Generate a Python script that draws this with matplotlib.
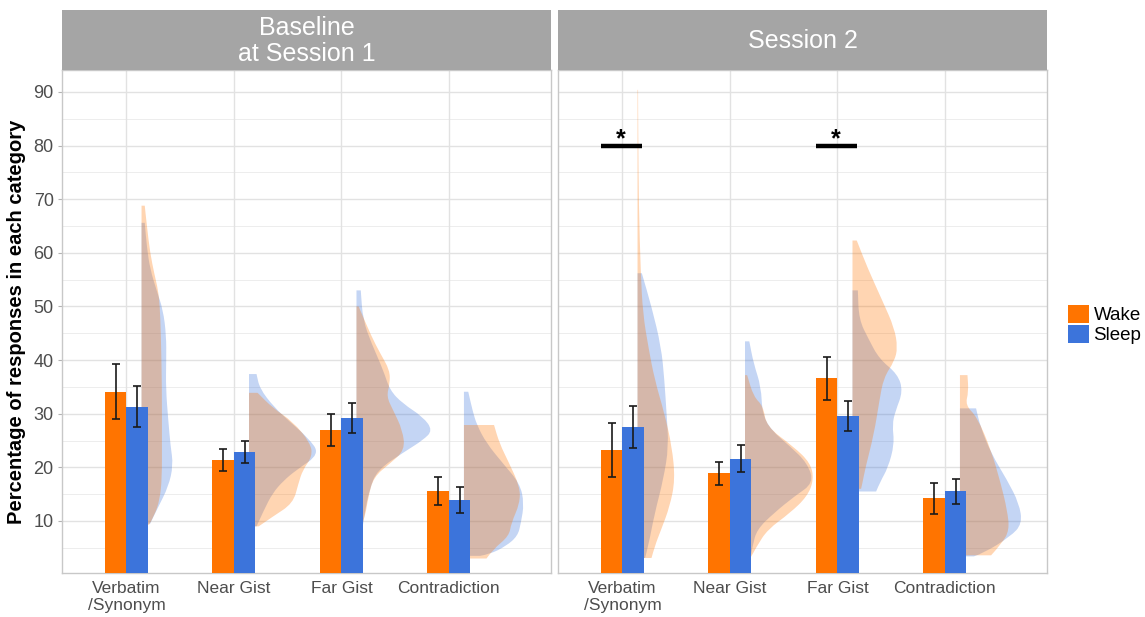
import matplotlib.pyplot as plt
from matplotlib.patches import Patch, PathPatch
from matplotlib.path import Path

plt.rcParams['font.family'] = ['Liberation Sans', 'DejaVu Sans']

categories = ["Verbatim\n/Synonym", "Near Gist", "Far Gist", "Contradiction"]
sessions = ["Baseline\nat Session 1", "Session 2"]
groups = ["Wake", "Sleep"]

# means and standard errors (percent)
s1_wake_mean = [34.1, 21.4, 27.0, 15.6]
s1_wake_se = [5.1, 2.1, 3.0, 2.6]
s1_sleep_mean = [31.3, 22.9, 29.2, 13.9]
s1_sleep_se = [3.85, 2.0, 2.8, 2.35]
s2_wake_mean = [23.2, 18.9, 36.6, 14.2]
s2_wake_se = [5.0, 2.1, 3.95, 2.85]
s2_sleep_mean = [27.6, 21.6, 29.5, 15.5]
s2_sleep_se = [3.9, 2.55, 2.8, 2.35]

# half-violin outlines: percent levels and scaled density at each level
s1_wake_levels = [
    [9.3, 11, 14, 18, 25, 35, 45, 50, 53, 56, 60, 65, 68.8],
    [9.0, 10.8, 13.3, 17.0, 19.5, 22.1, 24.6, 28.5, 31.1, 33.9],
    [9.2, 10.8, 14.5, 18.2, 20.7, 23.2, 26.9, 30.7, 33.2, 35.6, 38.1, 41.3, 44.4, 50.0],
    [3.0, 4.7, 7.2, 9.6, 13.3, 16.4, 20.8, 24.5, 27.9],
]
s1_wake_density = [
    [0.07, 0.12, 0.17, 0.19, 0.19, 0.19, 0.18, 0.17, 0.155, 0.12, 0.08, 0.05, 0.03],
    [0.09, 0.22, 0.41, 0.46, 0.50, 0.59, 0.57, 0.41, 0.22, 0.08],
    [0.05, 0.08, 0.11, 0.16, 0.31, 0.45, 0.43, 0.34, 0.28, 0.31, 0.31, 0.22, 0.14, 0.02],
    [0.21, 0.27, 0.42, 0.44, 0.52, 0.52, 0.42, 0.33, 0.28],
]
s1_sleep_levels = [
    [9.5, 12.6, 16.4, 20.4, 24, 28.5, 34.7, 40, 44.6, 49.4, 53, 57, 61, 65.6],
    [9.0, 12.1, 15.2, 17.5, 19.5, 22.5, 25.5, 28.5, 31.3, 34.7, 37.4],
    [9.2, 12.0, 15.7, 19.5, 23.2, 25.1, 26.9, 29.4, 31.9, 34.4, 38.1, 43.1, 47.5, 53.0],
    [3.5, 3.8, 5.3, 7.2, 9.6, 13.3, 17.0, 20.8, 24.5, 27.9, 30.6, 34.1],
]
s1_sleep_density = [
    [0.08, 0.155, 0.25, 0.295, 0.27, 0.25, 0.226, 0.23, 0.23, 0.2, 0.14, 0.08, 0.05, 0.03],
    [0.07, 0.14, 0.22, 0.32, 0.44, 0.66, 0.55, 0.38, 0.23, 0.10, 0.07],
    [0.06, 0.08, 0.12, 0.19, 0.47, 0.62, 0.71, 0.62, 0.43, 0.31, 0.25, 0.14, 0.06, 0.04],
    [0.15, 0.24, 0.39, 0.50, 0.53, 0.56, 0.52, 0.36, 0.21, 0.12, 0.08, 0.04],
]
s2_wake_levels = [
    [3.1, 5.3, 8.4, 12.7, 17.7, 23.9, 30.1, 36.3, 42.5, 48.7, 56.2, 68.6, 84.2, 90.4],
    [3.1, 5.3, 8.4, 11.5, 14.6, 17.7, 20.8, 23.9, 27.6, 31.4, 33.2, 37.2],
    [16.0, 16.8, 19.9, 26.2, 32.4, 36.7, 39.8, 42.3, 46.0, 51.0, 57.2, 62.3],
    [3.6, 5.8, 8.3, 12.0, 17.0, 23.2, 29.4, 31.6, 34.1, 37.2],
]
s2_wake_density = [
    [0.13, 0.16, 0.22, 0.30, 0.35, 0.32, 0.25, 0.16, 0.10, 0.05, 0.03, 0.012, 0.006, 0.005],
    [0.05, 0.11, 0.21, 0.42, 0.58, 0.64, 0.61, 0.45, 0.20, 0.17, 0.08, 0.02],
    [0.08, 0.09, 0.12, 0.20, 0.25, 0.29, 0.39, 0.42, 0.39, 0.28, 0.14, 0.04],
    [0.29, 0.39, 0.46, 0.44, 0.38, 0.29, 0.16, 0.05, 0.08, 0.07],
]
s2_sleep_levels = [
    [3.1, 5.3, 11.5, 17.7, 23.9, 30.1, 36.3, 42.5, 50.0, 56.2],
    [3.1, 5.3, 8.4, 11.5, 14.6, 17.1, 20.8, 23.9, 27.0, 30.1, 35.0, 39.4, 43.5],
    [15.5, 17.4, 19.9, 24.3, 28.0, 30.5, 34.2, 37.4, 40.2, 43.9, 47.6, 53.0],
    [3.4, 4.0, 7.1, 9.5, 13.3, 17.6, 22.6, 27.6, 31.0],
]
s2_sleep_density = [
    [0.07, 0.10, 0.16, 0.24, 0.29, 0.27, 0.25, 0.22, 0.13, 0.04],
    [0.05, 0.07, 0.11, 0.27, 0.46, 0.64, 0.58, 0.42, 0.24, 0.16, 0.15, 0.08, 0.04],
    [0.22, 0.26, 0.33, 0.39, 0.37, 0.40, 0.47, 0.42, 0.25, 0.15, 0.06, 0.05],
    [0.13, 0.22, 0.47, 0.58, 0.55, 0.44, 0.29, 0.19, 0.15],
]

# significant wake/sleep differences in session 2
sig_categories = [0, 2]
sig_level = 80

wake_col = "#FF7400"
sleep_col = "#3C74DB"


def half_violin(ax, base, levels, dens, color, z):
    # flat side on the left at x=base, smooth outline through the density points
    pts = [(base + d, y) for y, d in zip(levels, dens)]
    verts = [(base, levels[0]), pts[0]]
    codes = [Path.MOVETO, Path.LINETO]
    for i in range(1, len(pts) - 1):
        mid = ((pts[i][0] + pts[i + 1][0]) / 2, (pts[i][1] + pts[i + 1][1]) / 2)
        verts += [pts[i], mid]
        codes += [Path.CURVE3, Path.CURVE3]
    verts += [pts[-1], (base, levels[-1]), (base, levels[0])]
    codes += [Path.LINETO, Path.LINETO, Path.CLOSEPOLY]
    ax.add_patch(PathPatch(Path(verts, codes), facecolor=color, alpha=0.3,
                           lw=0, zorder=z))


panels = [
    (s1_wake_mean, s1_wake_se, s1_sleep_mean, s1_sleep_se,
     s1_wake_levels, s1_wake_density, s1_sleep_levels, s1_sleep_density, []),
    (s2_wake_mean, s2_wake_se, s2_sleep_mean, s2_sleep_se,
     s2_wake_levels, s2_wake_density, s2_sleep_levels, s2_sleep_density, sig_categories),
]

fig = plt.figure(figsize=(11.45, 6.17), dpi=100)
W, H = 1145, 617
lefts = [62, 558]
pw = 489
top, bottom = 70, 573

for p, (wm, ws, sm, ss, wl, wd, sl, sd, sig) in enumerate(panels):
    ax = fig.add_axes([lefts[p] / W, 1 - bottom / H, pw / W, (bottom - top) / H])
    ax.set_xlim(0.4, 4.95)
    ax.set_ylim(0.3, 94.1)
    xs = range(1, len(categories) + 1)

    # grid
    for y in range(10, 91, 10):
        ax.axhline(y, color="#e2e2e2", lw=1.0, zorder=0)
    for y in range(5, 91, 10):
        ax.axhline(y, color="#ededed", lw=0.7, zorder=0)
    for x in xs:
        ax.axvline(x, color="#e2e2e2", lw=1.0, zorder=0)

    # half violins behind the bars
    for i, x in enumerate(xs):
        base = x + 0.14
        half_violin(ax, base, sl[i], sd[i], sleep_col, 1)
        half_violin(ax, base, wl[i], wd[i], wake_col, 1.1)

    wx = [x - 0.1 for x in xs]
    sx = [x + 0.1 for x in xs]
    ax.bar(wx, wm, width=0.2, color=wake_col, zorder=3)
    ax.bar(sx, sm, width=0.2, color=sleep_col, zorder=3)
    ax.errorbar(wx, wm, yerr=ws, fmt="none", ecolor="#1a1a1a", elinewidth=1.2,
                capsize=3, capthick=1.2, zorder=4)
    ax.errorbar(sx, sm, yerr=ss, fmt="none", ecolor="#1a1a1a", elinewidth=1.2,
                capsize=3, capthick=1.2, zorder=4)

    for c in sig:
        x = c + 1
        ax.plot([x - 0.2, x + 0.18], [sig_level, sig_level], color="black",
                lw=3.2, solid_capstyle="butt", zorder=5)
        ax.text(x - 0.02, sig_level - 1.1, "*", ha="center", va="bottom",
                fontsize=18, fontweight="bold", zorder=5)

    ax.set_xticks(list(xs))
    ax.set_xticklabels(categories, fontsize=12.5, color="#4d4d4d", linespacing=1.1)
    ax.set_yticks(range(10, 91, 10))
    if p == 0:
        ax.set_yticklabels([str(v) for v in range(10, 91, 10)], fontsize=13,
                           color="#4d4d4d")
        ax.set_ylabel("Percentage of responses in each category", fontsize=14.5,
                      fontweight="bold", labelpad=5)
    else:
        ax.tick_params(axis="y", left=False, labelleft=False)
    ax.tick_params(axis="both", length=3, color="#b3b3b3", pad=3)
    ax.tick_params(axis="x", length=0, pad=6)
    for s in ax.spines.values():
        s.set_color("#c8c8c8")
        s.set_linewidth(1.0)

    # facet strip
    sax = fig.add_axes([lefts[p] / W, 1 - top / H, pw / W, 60 / H])
    sax.set_facecolor("#a5a5a5")
    sax.set_xticks([])
    sax.set_yticks([])
    for s in sax.spines.values():
        s.set_visible(False)
    sax.text(0.5, 0.48, sessions[p], ha="center", va="center", color="white",
             fontsize=18, linespacing=1.1, transform=sax.transAxes)

handles = [Patch(facecolor=wake_col), Patch(facecolor=sleep_col)]
fig.legend(handles, groups, loc="upper left", bbox_to_anchor=(1055 / W, 1 - 292 / H),
           frameon=False, fontsize=13.5, handlelength=1.1, handleheight=1.1,
           labelspacing=0.0, handletextpad=0.25, borderpad=0.2)

fig.savefig("out.png", dpi=100)
